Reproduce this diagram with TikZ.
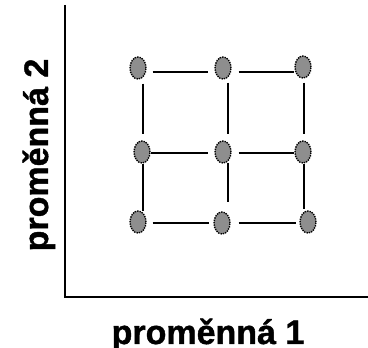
\documentclass[tikz,border=0pt]{standalone}
\usepackage{fontspec}
\setmainfont{Liberation Sans}
\usetikzlibrary{shapes.geometric}
\definecolor{dotgray}{RGB}{142,142,142}
\begin{document}
\begin{tikzpicture}[x=1pt,y=-1pt,
  pt/.style={ellipse,draw=black,densely dotted,line width=1.4pt,fill=dotgray,minimum width=16pt,minimum height=22pt,inner sep=0pt},
  edge/.style={line width=2pt},
  axis/.style={line width=2.5pt},
  lab/.style={font=\fontsize{34}{38}\selectfont\bfseries\addfontfeature{FakeBold=1.2},inner sep=0pt}]
\useasboundingbox (0,0) rectangle (368,348);
\fill[white] (0,0) rectangle (368,348);
\coordinate (top) at (65,5);
\coordinate (o) at (65,297);
\coordinate (right) at (368,297);
\draw[axis] (top) -- (o) -- (right);
\node[pt] (a1) at (138,68) {};
\node[pt] (a2) at (223,68) {};
\node[pt] (a3) at (303,67) {};
\node[pt] (b1) at (142,152) {};
\node[pt] (b2) at (223,152) {};
\node[pt] (b3) at (303,152) {};
\node[pt] (c1) at (138,222) {};
\node[pt] (c2) at (222,223) {};
\node[pt] (c3) at (308,222) {};
\coordinate (d) at (228,202);
% rows
\draw[edge] ([shift={(6,4)}]a1.east) -- ([shift={(-6,4)}]a2.west);
\draw[edge] ([shift={(7,4)}]a2.east) -- ([shift={(0,5)}]a3.west);
\draw[edge] ([shift={(0,1)}]b1.east) -- ([shift={(-6,1)}]b2.west);
\draw[edge] ([shift={(7,1)}]b2.east) -- ([shift={(0,1)}]b3.west);
\draw[edge] ([shift={(6,1)}]c1.east) -- ([shift={(-4,0)}]c2.west);
\draw[edge] ([shift={(8,0)}]c2.east) -- ([shift={(-3,1)}]c3.west);
% columns
\draw[edge] ([shift={(5,4)}]a1.south) -- ([shift={(1,-6)}]b1.north);
\draw[edge] ([shift={(1,0)}]b1.south) -- ([shift={(5,1)}]c1.north);
\draw[edge] ([shift={(5,3)}]a2.south) -- ([shift={(5,-6)}]b2.north);
\draw[edge] ([shift={(5,-1)}]b2.south) -- (d);
\draw[edge] ([shift={(1,4)}]a3.south) -- ([shift={(1,-6)}]b3.north);
\draw[edge] ([shift={(1,0)}]b3.south) -- ([shift={(-4,-1)}]c3.north);
\node[lab,anchor=base] (xl) at (208,344) {proměnná 1};
\node[lab,anchor=base,rotate=90] (yl) at (48,155) {proměnná 2};
\end{tikzpicture}
\end{document}
